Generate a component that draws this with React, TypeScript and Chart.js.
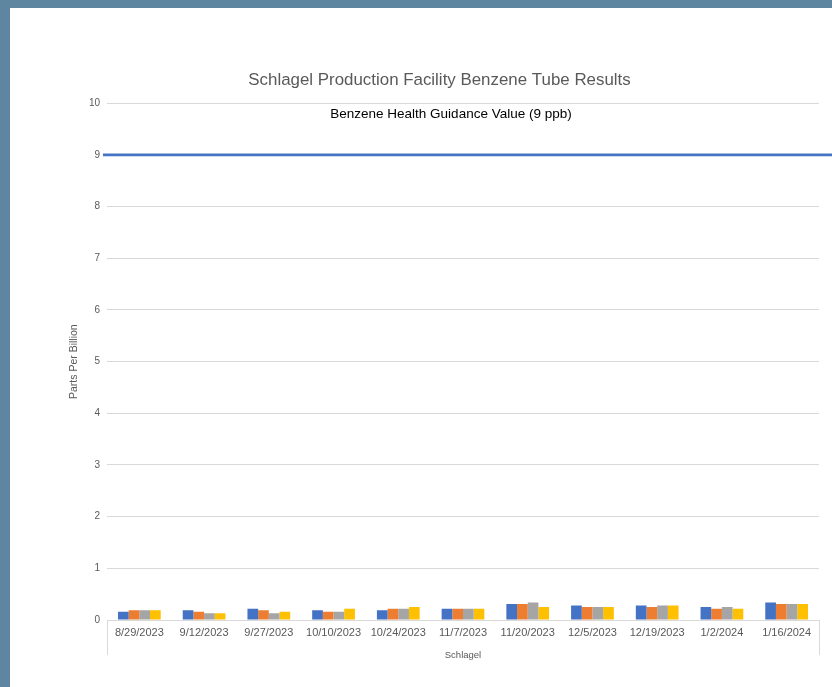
import React, { useEffect, useRef } from "react";
import { Chart, registerables } from "chart.js";

Chart.register(...registerables);

const categories = [
  "8/29/2023", "9/12/2023", "9/27/2023", "10/10/2023", "10/24/2023", "11/7/2023",
  "11/20/2023", "12/5/2023", "12/19/2023", "1/2/2024", "1/16/2024",
];
const tube1 = [0.16, 0.19, 0.22, 0.19, 0.19, 0.22, 0.31, 0.28, 0.28, 0.25, 0.34];
const tube2 = [0.19, 0.16, 0.19, 0.16, 0.22, 0.22, 0.31, 0.25, 0.25, 0.22, 0.31];
const tube3 = [0.19, 0.13, 0.13, 0.16, 0.22, 0.22, 0.34, 0.25, 0.28, 0.25, 0.31];
const tube4 = [0.19, 0.13, 0.16, 0.22, 0.25, 0.22, 0.25, 0.25, 0.28, 0.22, 0.31];
const seriesNames = ["Tube 1", "Tube 2", "Tube 3", "Tube 4"];
const guidanceValue = 9;
const guidanceLabel = "Benzene Health Guidance Value (9 ppb)";
const chartTitle = "Schlagel Production Facility Benzene Tube Results";
const yTitle = "Parts Per Billion";
const xGroupLabel = "Schlagel";
const yMin = 0;
const yMax = 10;

const FONT = "'Liberation Sans', Arial, sans-serif";
const colors = ["#4472C4", "#ED7D31", "#A5A5A5", "#FFC000"];

const guidancePlugin = {
  id: "guidance",
  afterDatasetsDraw(chart: any) {
    const { ctx, chartArea, scales } = chart;
    const y = scales.y.getPixelForValue(guidanceValue);
    ctx.save();
    ctx.strokeStyle = "#4472C4";
    ctx.lineWidth = 2.75;
    ctx.beginPath();
    ctx.moveTo(chartArea.left - 4, y);
    ctx.lineTo(chart.width, y);
    ctx.stroke();
    ctx.fillStyle = "#000000";
    ctx.font = `13.5px ${FONT}`;
    ctx.textAlign = "center";
    ctx.textBaseline = "middle";
    ctx.fillText(guidanceLabel, (chartArea.left + chartArea.right) / 2 - 12, y - 41);
    // category group box lines
    ctx.strokeStyle = "#d9d9d9";
    ctx.lineWidth = 1;
    ctx.beginPath();
    const l = Math.round(scales.x.left) + 0.5;
    const r = Math.round(scales.x.right) + 0.5;
    ctx.moveTo(l, chartArea.bottom);
    ctx.lineTo(l, chartArea.bottom + 35);
    ctx.moveTo(r, chartArea.bottom);
    ctx.lineTo(r, chartArea.bottom + 35);
    ctx.stroke();
    ctx.restore();
  },
};

function ChartView() {
  const ref = useRef<HTMLCanvasElement | null>(null);
  useEffect(() => {
    if (!ref.current) return;
    const data = [tube1, tube2, tube3, tube4];
    const chart = new Chart(ref.current, {
      type: "bar",
      data: {
        labels: categories,
        datasets: data.map((d, i) => ({
          label: seriesNames[i],
          data: d,
          backgroundColor: colors[i],
          borderWidth: 0,
          categoryPercentage: 0.66,
          barPercentage: 1,
        })),
      },
      options: {
        animation: false,
        responsive: false,
        devicePixelRatio: 1,
        layout: { padding: { left: 50, right: 13, top: 0, bottom: 0 } },
        plugins: {
          legend: { display: false },
          tooltip: { enabled: false },
          title: {
            display: true,
            text: chartTitle,
            color: "#595959",
            font: { family: FONT, size: 16.9, weight: "normal" },
            padding: { top: 62, bottom: 13 },
          },
        },
        scales: {
          x: {
            grid: { display: false, drawTicks: false },
            border: { display: true, color: "#d9d9d9" },
            ticks: {
              color: "#595959",
              font: { family: FONT, size: 11 },
              padding: 6,
              maxRotation: 0,
              autoSkip: false,
            },
            title: {
              display: true,
              text: xGroupLabel,
              color: "#595959",
              font: { family: FONT, size: 9.5 },
              padding: { top: 0, bottom: 26 },
            },
            afterFit(scale: any) {
              scale.height = 67;
            },
          },
          y: {
            min: yMin,
            max: yMax,
            grid: { color: "#d9d9d9", drawTicks: false },
            border: { display: false },
            ticks: {
              stepSize: 1,
              color: "#595959",
              font: { family: FONT, size: 10 },
              padding: 7,
            },
            title: {
              display: true,
              text: yTitle,
              color: "#595959",
              font: { family: FONT, size: 10.5 },
              padding: { top: 8, bottom: 0 },
            },
            afterFit(scale: any) {
              scale.width = 47;
            },
          },
        },
      },
      plugins: [guidancePlugin],
    });
    return () => chart.destroy();
  }, []);
  return <canvas ref={ref} width={822} height={679} style={{ display: "block", width: 822, height: 679 }} />;
}

export default function App() {
  return (
    <div
      style={{
        position: "fixed",
        left: 0,
        top: 0,
        width: 832,
        height: 687,
        background: "#5E86A0",
        overflow: "hidden",
      }}
    >
      <div style={{ position: "absolute", left: 10, top: 8, width: 822, height: 679, background: "#ffffff" }}>
        <ChartView />
      </div>
    </div>
  );
}
